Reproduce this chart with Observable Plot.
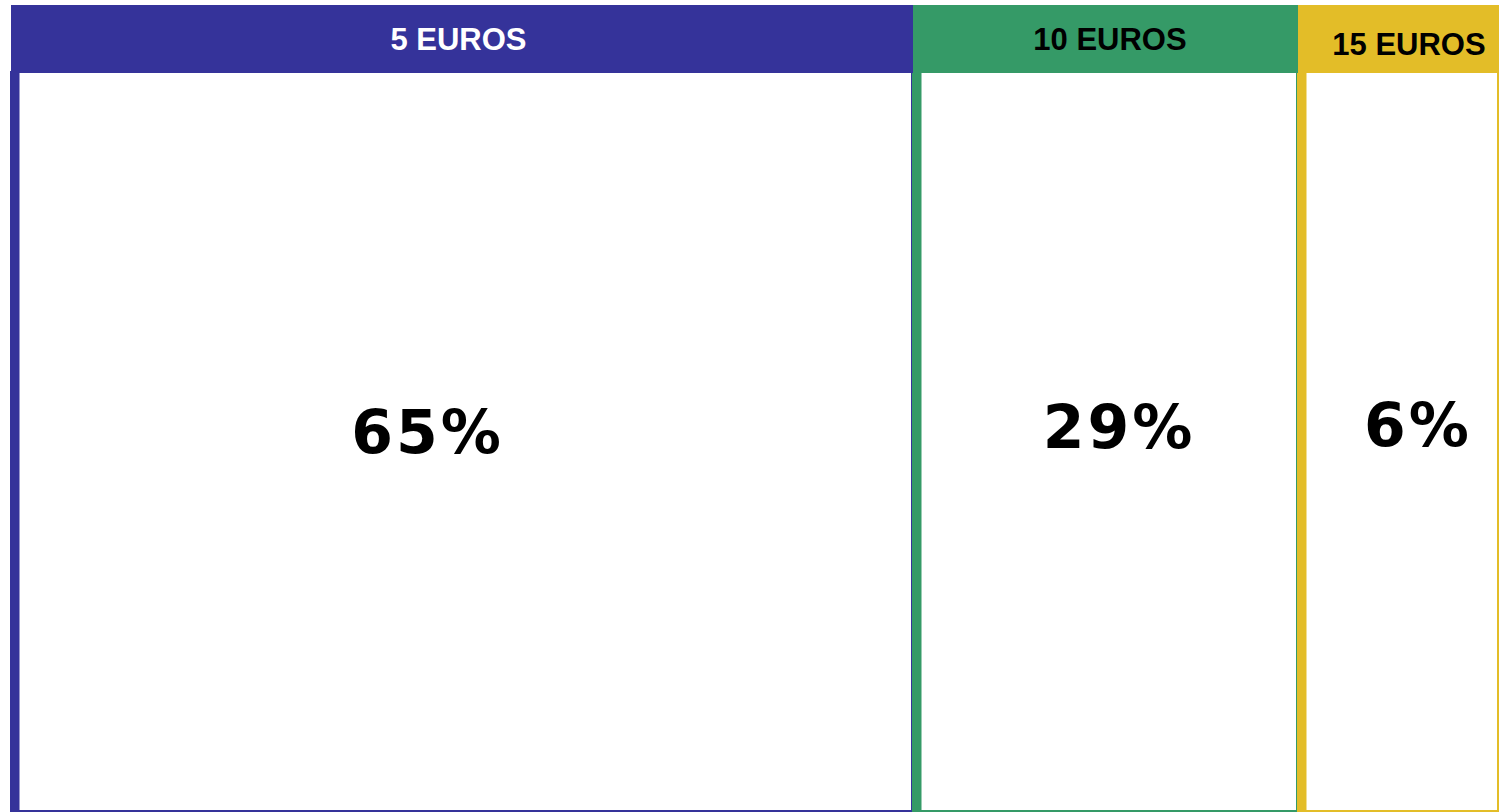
<!DOCTYPE html>
<html>
<head>
<meta charset="utf-8">
<script src="https://cdn.jsdelivr.net/npm/d3@7"></script>
<script src="https://cdn.jsdelivr.net/npm/@observablehq/plot@0.6"></script>
<style>
  html, body { margin: 0; padding: 0; background: #fff; }
  #chart svg { display: block; }
</style>
</head>
<body>
<div id="chart"></div>
<script>
// Data
const categories = ["5 EUROS", "10 EUROS", "15 EUROS"];
const shares = [65, 29, 6];
const labels = ["65%", "29%", "6%"];
const colors = ["#35339a", "#359a67", "#e3bd28"];
const headerTextColors = ["#ffffff", "#000000", "#000000"];

// Build table with cumulative extents
let acc = 0;
const data = categories.map((c, i) => {
  const d = {category: c, share: shares[i], label: labels[i], color: colors[i], textColor: headerTextColors[i], x1: acc, x2: acc + shares[i]};
  acc += shares[i];
  d.mid = (d.x1 + d.x2) / 2;
  return d;
});
const bounds = [0, ...data.map(d => d.x2)];

const W = 1499, H = 812;

// per-column label nudges to match reference placement
const pctDx = [-35, 13, 19];
const pctDy = [433, 428, 426];
const hdrDx = [-4, 4, 10];
const hdrDy = [40, 40, 45];

const marks = [
  // body boxes
  Plot.rect(data, {x1: "x1", x2: "x2", fill: "#fff", stroke: "color", strokeWidth: 2, insetTop: 72, insetBottom: 1, insetLeft: 0, insetRight: 1}),
  // thick left bars
  Plot.ruleX(data, {x: "x1", stroke: "color", strokeWidth: 8, dx: 4, insetTop: 35}),
  // header bands
  Plot.rect(data, {x1: "x1", x2: "x2", fill: "color", insetTop: 5, insetBottom: H - 73})
];
data.forEach((d, i) => {
  marks.push(Plot.text([d], {
    x: "mid", text: "category", fill: "textColor", frameAnchor: "top", lineAnchor: "middle",
    dy: hdrDy[i], dx: hdrDx[i], fontFamily: "Liberation Sans, Arial, sans-serif", fontWeight: "bold", fontSize: 31
  }));
  marks.push(Plot.text([d], {
    x: "mid", text: "label", fill: "#000", frameAnchor: "top", lineAnchor: "middle",
    dy: pctDy[i], dx: pctDx[i], fontFamily: "DejaVu Sans, sans-serif", fontWeight: "bold", fontSize: 60
  }));
});

const chart = Plot.plot({
  width: W,
  height: H,
  margin: 0,
  x: {type: "linear", domain: bounds, range: [11, 913, 1298, 1499], axis: null},
  y: {axis: null},
  marks
});
chart.querySelectorAll("g[font-size='60'] text, text[font-size='60']").forEach(t => t.style.letterSpacing = "3px");
document.getElementById("chart").appendChild(chart);
</script>
</body>
</html>
